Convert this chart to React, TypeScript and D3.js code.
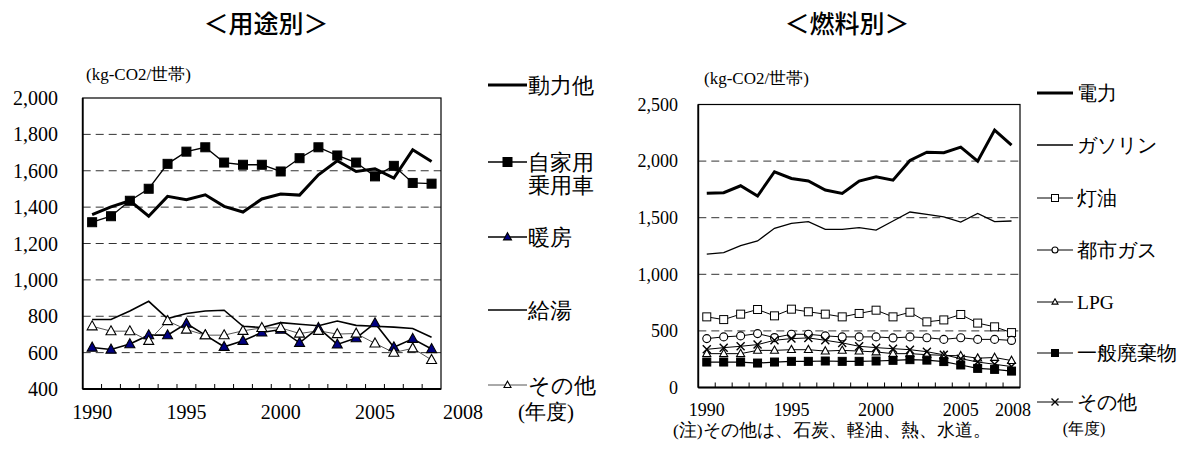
import React from 'react';
import * as d3 from 'd3';

const W = 1179;
const H = 455;

// ---------- shared categories ----------
const years = ['1990','1991','1992','1993','1994','1995','1996','1997','1998','1999','2000','2001','2002','2003','2004','2005','2006','2007','2008'];
const labelYears = ['1990','1995','2000','2005'];

// ---------- left chart: <用途別> ----------
const useTitle = '＜用途別＞';
const useTicks = [400, 600, 800, 1000, 1200, 1400, 1600, 1800, 2000];
const useGrid = [600, 800, 1000, 1200, 1400, 1600, 1800];
const douryoku = [1359, 1401, 1435, 1350, 1459, 1441, 1468, 1404, 1373, 1445, 1472, 1466, 1578, 1655, 1596, 1611, 1560, 1715, 1651];
const jikayou = [1317, 1350, 1435, 1501, 1638, 1705, 1729, 1645, 1633, 1633, 1596, 1669, 1729, 1684, 1645, 1569, 1627, 1533, 1529];
const danbou = [628, 617, 647, 696, 696, 760, 696, 632, 665, 711, 727, 654, 736, 645, 680, 762, 630, 676, 620];
const kyuutou = [782, 782, 829, 882, 787, 815, 829, 833, 745, 738, 765, 756, 748, 774, 750, 745, 740, 733, 684];
const useOther = [745, 718, 718, 665, 774, 727, 696, 696, 720, 736, 736, 705, 720, 702, 705, 651, 600, 624, 560];

// ---------- right chart: <燃料別> ----------
const fuelTitle = '＜燃料別＞';
const fuelTicks = [0, 500, 1000, 1500, 2000, 2500];
const fuelGrid = [500, 1000, 1500, 2000];
const denryoku = [1715, 1721, 1782, 1691, 1906, 1847, 1824, 1744, 1715, 1824, 1862, 1832, 2006, 2078, 2074, 2124, 2000, 2274, 2141];
const gasoline = [1178, 1192, 1254, 1295, 1406, 1450, 1465, 1397, 1397, 1412, 1391, 1471, 1550, 1530, 1508, 1462, 1538, 1465, 1471];
const touyu = [624, 600, 648, 689, 633, 692, 669, 648, 624, 654, 683, 624, 665, 580, 597, 645, 569, 536, 485];
const toshigas = [432, 447, 456, 476, 441, 470, 470, 456, 447, 447, 447, 438, 447, 440, 425, 440, 425, 425, 416];
const lpg = [299, 299, 299, 328, 328, 334, 334, 322, 328, 322, 314, 299, 299, 290, 284, 280, 259, 265, 238];
const haikibutsu = [225, 225, 225, 216, 225, 231, 231, 234, 231, 231, 234, 240, 246, 242, 229, 199, 169, 160, 145];
const fuelOther = [337, 352, 364, 379, 417, 432, 438, 417, 394, 364, 352, 343, 334, 316, 289, 255, 225, 205, 185];

const unitLabel = '(kg-CO2/世帯)';
const yearUnit = '(年度)';
const noteText = '(注)その他は、石炭、軽油、熱、水道。';

const SERIF_STYLE = { fontFamily: "'Liberation Serif', 'DejaVu Serif', 'Times New Roman', serif" };
const GOTHIC_STYLE = { fontFamily: "'Noto Sans CJK JP', sans-serif" };

type MarkerType = 'square' | 'triangle' | 'circle' | 'x' | null;

interface SeriesDef {
  name: string[];
  values: number[];
  stroke: string;
  width: number;
  marker: MarkerType;
  mFill?: string;
  mSize?: number;
  legendY: number[];
  legendMSize?: number;
}

function Marker({ type, x, y, size, fill }: { type: MarkerType; x: number; y: number; size: number; fill: string }) {
  if (!type) return null;
  if (type === 'square') {
    return <rect x={x - size / 2} y={y - size / 2} width={size} height={size} fill={fill} stroke="#000" strokeWidth={1} />;
  }
  if (type === 'triangle') {
    const h = size * 0.9;
    return (
      <path
        d={`M${x},${y - h * 0.6}L${x + size / 2},${y + h * 0.4}L${x - size / 2},${y + h * 0.4}Z`}
        fill={fill}
        stroke="#000"
        strokeWidth={1.1}
        strokeLinejoin="miter"
      />
    );
  }
  if (type === 'circle') {
    return <circle cx={x} cy={y} r={size / 2} fill={fill} stroke="#000" strokeWidth={1.1} />;
  }
  const s = size / 2;
  return (
    <path d={`M${x - s},${y - s}L${x + s},${y + s}M${x - s},${y + s}L${x + s},${y - s}`} stroke="#000" strokeWidth={1.4} fill="none" />
  );
}

interface ChartProps {
  title: string;
  titleX: number;
  plot: { x0: number; x1: number; y0: number; y1: number };
  yDomain: [number, number];
  yTicks: number[];
  grid: number[];
  yLabelX: number;
  tickFont: number;
  xLabelY: number;
  lastYearX: number;
  unitX: number;
  unitY: number;
  series: SeriesDef[];
  legendLineX: [number, number];
  legendTextX: number;
  legendFont: number;
  yearUnitX: number;
  yearUnitY: number;
  yearUnitFont: number;
}

function Chart(p: ChartProps) {
  const { x0, x1, y0, y1 } = p.plot;
  const x = d3.scaleBand<string>().domain(years).range([x0, x1]).padding(0);
  const y = d3.scaleLinear().domain(p.yDomain).range([y1, y0]);
  const bw = x.bandwidth();
  const cx = (yr: string) => (x(yr) as number) + bw / 2;
  const line = d3
    .line<number>()
    .x((_, i) => cx(years[i]))
    .y((d) => y(d));
  const fmt = d3.format(',');
  const lastYear = years[years.length - 1];
  const [lx0, lx1] = p.legendLineX;
  const lmx = (lx0 + lx1) / 2;

  return (
    <g>
      <text x={p.titleX} y={22} textAnchor="middle" dominantBaseline="central" style={GOTHIC_STYLE} fontSize={25} fontWeight={500}>
        {p.title}
      </text>
      <text x={p.unitX} y={p.unitY} dy="0.35em" style={SERIF_STYLE} fontSize={17}>
        {unitLabel}
      </text>
      {p.grid.map((g) => (
        <line key={'g' + g} x1={x0} x2={x1} y1={y(g)} y2={y(g)} stroke="#333" strokeWidth={1} strokeDasharray="8,5" />
      ))}
      {p.yTicks.map((t) => (
        <text key={'yt' + t} x={p.yLabelX} y={y(t)} dy="0.35em" textAnchor="end" style={SERIF_STYLE} fontSize={p.tickFont}>
          {fmt(t)}
        </text>
      ))}
      {years.slice(1).map((yr) => (
        <line key={'xt' + yr} x1={x(yr) as number} x2={x(yr) as number} y1={y1} y2={y1 - 5} stroke="#000" strokeWidth={1} />
      ))}
      {labelYears.map((yr) => (
        <text key={'xl' + yr} x={cx(yr)} y={p.xLabelY} dy="0.35em" textAnchor="middle" style={SERIF_STYLE} fontSize={p.tickFont}>
          {yr}
        </text>
      ))}
      <text x={p.lastYearX} y={p.xLabelY} dy="0.35em" textAnchor="middle" style={SERIF_STYLE} fontSize={p.tickFont}>
        {lastYear}
      </text>
      {p.series.map((s, si) => (
        <path key={'s' + si} d={line(s.values) || ''} fill="none" stroke={s.stroke} strokeWidth={s.width} strokeLinejoin="miter" />
      ))}
      {p.series.map((s, si) =>
        s.values.map((v, i) => (
          <Marker key={'m' + si + '-' + i} type={s.marker} x={cx(years[i])} y={y(v)} size={s.mSize || 8} fill={s.mFill || '#fff'} />
        ))
      )}
      <rect x={x0} y={y0} width={x1 - x0} height={y1 - y0} fill="none" stroke="#000" strokeWidth={1.2} />
      <line x1={x0} x2={x0} y1={y0} y2={y1} stroke="#000" strokeWidth={1.8} />
      <line x1={x0} x2={x1} y1={y1} y2={y1} stroke="#000" strokeWidth={1.8} />
      {p.series.map((s, si) => {
        const ly = s.legendY[0];
        return (
          <g key={'lg' + si}>
            <line x1={lx0} x2={lx1} y1={ly} y2={ly} stroke={s.stroke} strokeWidth={s.width} />
            <Marker type={s.marker} x={lmx} y={ly} size={s.legendMSize || 7} fill={s.mFill || '#fff'} />
            {s.name.map((nm, k) => (
              <text key={k} x={p.legendTextX} y={s.legendY[k]} dy="0.35em" style={SERIF_STYLE} fontSize={p.legendFont}>
                {nm}
              </text>
            ))}
          </g>
        );
      })}
      <text x={p.yearUnitX} y={p.yearUnitY} dy="0.35em" textAnchor="middle" style={SERIF_STYLE} fontSize={p.yearUnitFont}>
        {yearUnit}
      </text>
    </g>
  );
}

const leftSeries: SeriesDef[] = [
  { name: ['動力他'], values: douryoku, stroke: '#000', width: 3, marker: null, legendY: [85] },
  { name: ['自家用', '乗用車'], values: jikayou, stroke: '#000', width: 1.3, marker: 'square', mFill: '#000', mSize: 9, legendY: [162, 185], legendMSize: 9 },
  { name: ['暖房'], values: danbou, stroke: '#000', width: 1.6, marker: 'triangle', mFill: '#000080', mSize: 10, legendY: [237], legendMSize: 8 },
  { name: ['給湯'], values: kyuutou, stroke: '#000', width: 1.6, marker: null, legendY: [310] },
  { name: ['その他'], values: useOther, stroke: '#555', width: 1, marker: 'triangle', mFill: '#fff', mSize: 10, legendY: [385], legendMSize: 7 },
];

const rightSeries: SeriesDef[] = [
  { name: ['電力'], values: denryoku, stroke: '#000', width: 3, marker: null, legendY: [93] },
  { name: ['ガソリン'], values: gasoline, stroke: '#000', width: 1.3, marker: null, legendY: [145] },
  { name: ['灯油'], values: touyu, stroke: '#000', width: 1, marker: 'square', mFill: '#fff', mSize: 8, legendY: [198], legendMSize: 7 },
  { name: ['都市ガス'], values: toshigas, stroke: '#000', width: 1, marker: 'circle', mFill: '#fff', mSize: 8, legendY: [250], legendMSize: 6 },
  { name: ['LPG'], values: lpg, stroke: '#000', width: 1, marker: 'triangle', mFill: '#fff', mSize: 8, legendY: [302], legendMSize: 6 },
  { name: ['その他'], values: fuelOther, stroke: '#000', width: 1, marker: 'x', mFill: '#fff', mSize: 8, legendY: [402], legendMSize: 7 },
  { name: ['一般廃棄物'], values: haikibutsu, stroke: '#000', width: 1.2, marker: 'square', mFill: '#000', mSize: 8, legendY: [353], legendMSize: 7 },
];

export default function App() {
  return (
    <svg width={W} height={H} style={{ position: 'absolute', left: 0, top: 0, background: '#fff' }}>
      <rect x={0} y={0} width={W} height={H} fill="#fff" />
      <Chart
        title={useTitle}
        titleX={266}
        plot={{ x0: 82.7, x1: 441, y0: 98, y1: 389 }}
        yDomain={[400, 2000]}
        yTicks={useTicks}
        grid={useGrid}
        yLabelX={58}
        tickFont={20}
        xLabelY={412}
        lastYearX={463}
        unitX={86}
        unitY={74}
        series={leftSeries}
        legendLineX={[488, 527]}
        legendTextX={528}
        legendFont={22}
        yearUnitX={546}
        yearUnitY={412}
        yearUnitFont={21}
      />
      <Chart
        title={fuelTitle}
        titleX={847}
        plot={{ x0: 698.3, x1: 1020, y0: 104.5, y1: 387.5 }}
        yDomain={[0, 2500]}
        yTicks={fuelTicks}
        grid={fuelGrid}
        yLabelX={678}
        tickFont={18}
        xLabelY={410}
        lastYearX={1013}
        unitX={704}
        unitY={78}
        series={rightSeries}
        legendLineX={[1037, 1073]}
        legendTextX={1077}
        legendFont={19.5}
        yearUnitX={1084}
        yearUnitY={428}
        yearUnitFont={16}
      />
      <text x={673} y={430} dy="0.35em" style={SERIF_STYLE} fontSize={17.5}>
        {noteText}
      </text>
    </svg>
  );
}
